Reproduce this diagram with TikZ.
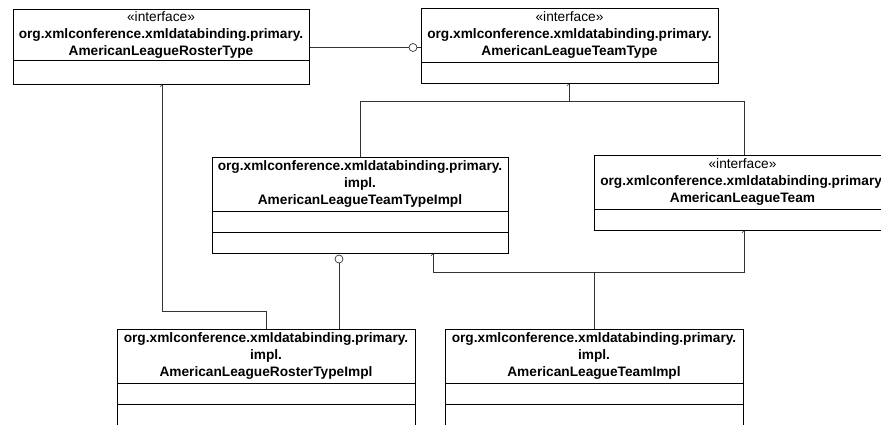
\documentclass[tikz,border=0pt]{standalone}
\usepackage{fontspec}
\setmainfont{Liberation Sans}
\begin{document}
\begin{tikzpicture}[x=1pt,y=-1pt,
  box/.style={draw=black, line width=0.8pt, anchor=north west, inner sep=0pt, minimum width=#1},
  hdr/.style={align=center, inner sep=0pt, font=\fontsize{13.7}{17}\selectfont},
  conn/.style={draw=black!80, line width=0.8pt},
  circ/.style={draw=black!80, line width=0.7pt, circle, fill=white, minimum size=8pt, inner sep=0pt},
  tick/.style={draw=black!80, line width=0.6pt}]
\useasboundingbox (0,0) rectangle (881,424);
\clip (0,0) rectangle (881,424);

% Box A
\node[box=296pt, minimum height=75pt] (A) at (13,9) {};
\node[hdr] (At) at (161,34.5) {«interface»\\\textbf{org.xmlconference.xmldatabinding.primary.}\\\textbf{AmericanLeagueRosterType}};
\draw[line width=0.8pt] (13,60) -- (309,60);

% Box B
\node[box=297pt, minimum height=75pt] (B) at (421,8) {};
\node[hdr] (Bt) at (569.5,35) {«interface»\\\textbf{org.xmlconference.xmldatabinding.primary.}\\\textbf{AmericanLeagueTeamType}};
\draw[line width=0.8pt] (421,62) -- (718,62);

% Box C
\node[box=296pt, minimum height=96pt] (C) at (212,157) {};
\node[hdr] (Ct) at (360,184) {\textbf{org.xmlconference.xmldatabinding.primary.}\\\textbf{impl.}\\\textbf{AmericanLeagueTeamTypeImpl}};
\draw[line width=0.8pt] (212,211) -- (508,211);
\draw[line width=0.8pt] (212,232) -- (508,232);

% Box D
\node[box=297pt, minimum height=75pt] (D) at (594,155) {};
\node[hdr] (Dt) at (742.5,181.5) {«interface»\\\textbf{org.xmlconference.xmldatabinding.primary.}\\\textbf{AmericanLeagueTeam}};
\draw[line width=0.8pt] (594,209) -- (891,209);

% Box E
\node[box=298pt, minimum height=110pt] (E) at (117,329) {};
\node[hdr] (Et) at (266,356) {\textbf{org.xmlconference.xmldatabinding.primary.}\\\textbf{impl.}\\\textbf{AmericanLeagueRosterTypeImpl}};
\draw[line width=0.8pt] (117,383) -- (415,383);
\draw[line width=0.8pt] (117,404) -- (415,404);

% Box F
\node[box=298pt, minimum height=110pt] (F) at (445,329) {};
\node[hdr] (Ft) at (594,356) {\textbf{org.xmlconference.xmldatabinding.primary.}\\\textbf{impl.}\\\textbf{AmericanLeagueTeamImpl}};
\draw[line width=0.8pt] (445,383) -- (743,383);
\draw[line width=0.8pt] (445,404) -- (743,404);

% A -- B association with circle
\node[circ] (c1) at (413,47.5) {};
\draw[conn] (c1.west) -- (c1.west -| A.east);
\draw[conn] (c1.east) -- (c1.east -| B.west);

% B -> C, D
\coordinate (j1) at (569,101);
\coordinate (jl) at (360,101);
\coordinate (jr) at (744,101);
\draw[conn] (j1 |- B.south) -- (j1);
\draw[conn] (jl |- C.north) -- (jl) -- (jr) -- (jr |- D.north);
\draw[tick] (j1 |- B.south) -- ++(-2,2);

% A -> E
\coordinate (k1) at (162,311);
\coordinate (k2) at (266,311);
\draw[conn] (k1 |- A.south) -- (k1) -- (k2) -- (k2 |- E.north);
\draw[tick] (k1 |- A.south) -- ++(-2,2);

% C (circle) -- E
\node[circ] (c2) at (339,259) {};
\draw[conn] (c2.south) -- (c2.south |- E.north);

% F -> C, D
\coordinate (m0) at (594,272);
\coordinate (ml) at (433,272);
\coordinate (mr) at (744,272);
\draw[conn] (m0 |- F.north) -- (m0);
\draw[conn] (ml |- C.south) -- (ml) -- (mr) -- (mr |- D.south);
\draw[tick] (ml |- C.south) -- ++(-2,2);
\draw[tick] (mr |- D.south) -- ++(-2,2);
\end{tikzpicture}
\end{document}
